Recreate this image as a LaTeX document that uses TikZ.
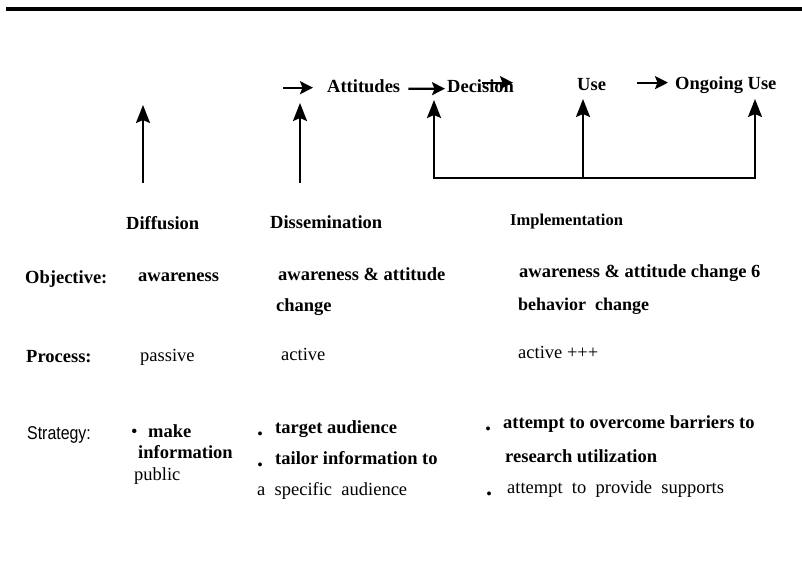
\documentclass[tikz,border=0pt]{standalone}
\usepackage{fontspec}
\setmainfont{Liberation Serif}
\newfontfamily\narrowsf[FakeStretch=0.86]{Liberation Sans}
\usetikzlibrary{arrows.meta,positioning}
\newcommand{\txtsize}{\fontsize{18.5}{22}\selectfont}
\newcommand{\widesp}{\spaceskip=0.5em\relax}
\tikzset{
  ar/.style={-{Stealth[length=13pt,width=13pt,inset=2.5pt]},line width=2.2pt},
  upar/.style={-{Stealth[length=18pt,width=14pt,inset=3pt]},line width=2pt},
  tm/.style={anchor=base west,inner sep=0pt,font=\txtsize},
  hd/.style={tm,font=\txtsize\bfseries},
  dot/.style={tm,font=\fontsize{24}{24}\selectfont\bfseries},
  wide/.style={tm,font=\txtsize\widesp},
  sf/.style={tm,font=\txtsize\narrowsf}
}
\begin{document}
\begin{tikzpicture}[x=1pt,y=-1pt]
\useasboundingbox (0,0) rectangle (802,564);
\draw[line width=4pt] (6,9)--(802,9);
% stages along the top
\node[hd] (att) at (327,93) {Attitudes};
\node[hd] (dec) at (447,93) {Decision};
\node[hd] (use) at (577,91) {Use};
\node[hd] (ong) at (675,90) {Ongoing Use};
\draw[ar] ([xshift=-44pt,yshift=-1pt]att.west) -- ([xshift=-14pt,yshift=-1pt]att.west);
\draw[ar] ([xshift=8pt,yshift=-2pt]att.east) -- ([xshift=-2pt,yshift=-2pt]dec.west);
\draw[ar] ([xshift=35pt,yshift=4pt]dec.west) -- ([xshift=66pt,yshift=4pt]dec.west);
\draw[ar] ([xshift=-38pt,yshift=3pt]ong.west) -- ([xshift=-7pt,yshift=3pt]ong.west);
% upward arrows
\foreach \n/\x/\t/\b in {1/143/105/183,2/300/103/183,3/434/100/178,4/583/99/178,5/755/99/178}{
  \coordinate (lo\n) at (\x,\b);
  \coordinate (hi\n) at (\x,\t);
  \draw[upar] (lo\n) -- (hi\n);
}
\draw[line width=2pt,line cap=rect] (lo3) -- (lo5);
% column heads
\node[hd] (dif) at (126,229) {Diffusion};
\node[hd] (dis) at (270,228) {Dissemination};
\node[hd,font=\fontsize{16.5}{20}\selectfont\bfseries] (imp) at (510,225) {Implementation};
% objective
\node[hd] (objl) at (25,283) {Objective:};
\node[hd] (obj1) at (138,281) {awareness};
\node[hd] (obj2) at (278,280) {awareness \& attitude};
\node[hd] (obj2b) at (276,311) {change};
\node[hd] (obj3) at (519,277) {awareness \& attitude change 6};
\node[hd,font=\fontsize{18}{22}\selectfont\bfseries] (obj3b) at (518,310) {behavior\ \ change};
% process
\node[hd] (prol) at (26,362) {Process:};
\node[tm] (pro1) at (140,361) {passive};
\node[tm] (pro2) at (281,360) {active};
\node[tm] (pro3) at (518,358) {active +++};
% strategy
\node[sf] (strl) at (27,439) {Strategy:};
\node[tm] (bu1) at (131,437) {•};
\node[hd] (st1) at (148,437) {make};
\node[hd] (st1b) at (138,458) {information};
\node[tm] (st1c) at (134,480) {public};
\node[dot] (bu2) at (257,435) {.};
\node[hd] (st2) at (275,433) {target audience};
\node[dot] (bu3) at (257,466) {.};
\node[hd] (st2b) at (275,464) {tailor information to};
\node[wide] (st2c) at (257,495) {a specific audience};
\node[dot] (bu4) at (485,430) {.};
\node[hd] (st3) at (503,428) {attempt to overcome barriers to};
\node[hd] (st3b) at (505,462) {research utilization};
\node[dot] (bu5) at (486,495) {.};
\node[wide] (st3c) at (507,493) {attempt to provide supports};
\end{tikzpicture}
\end{document}
